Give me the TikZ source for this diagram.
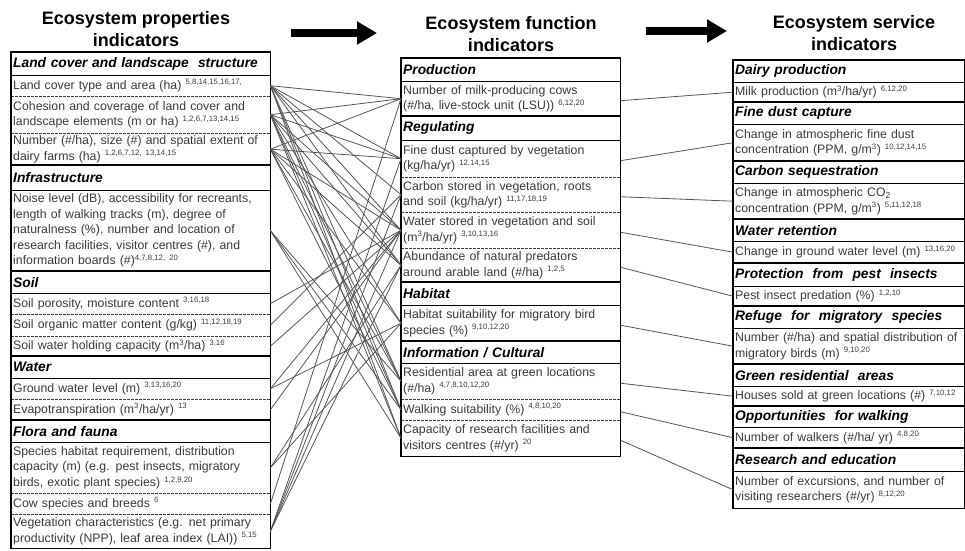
\documentclass[tikz,border=0pt]{standalone}
\usepackage{fontspec}
\setmainfont{Liberation Sans}
\usetikzlibrary{arrows.meta}
\definecolor{bodygray}{HTML}{3A3A3A}
\definecolor{linkgray}{HTML}{555555}
\newcommand\sups[1]{\textsuperscript{\fontsize{7.8}{9}\selectfont #1}}
\newcommand\cell[7]{\node[#1, minimum height=#5pt, text width=#6pt] (#2) at (#3,#4) {#7};}
\begin{document}
\begin{tikzpicture}[x=1pt,y=-1pt,
  base/.style={anchor=north west, inner xsep=2pt, inner ysep=0pt, align=left},
  itm/.style={base, text=bodygray, font=\fontsize{12.3}{15.5}\selectfont},
  hdr/.style={base, text=black, font=\fontsize{13.8}{16}\selectfont\bfseries\itshape},
  ttl/.style={align=center, font=\fontsize{18}{22}\selectfont\bfseries},
  sep/.style={line width=1.4pt, black},
  dsep/.style={line width=0.8pt, bodygray, dash pattern=on 2.5pt off 1.5pt},
  link/.style={draw=linkgray, line width=0.8pt},
  bigarrow/.style={line width=8pt, -{Triangle[length=20pt,width=22pt]}}
]
\useasboundingbox (0,0) rectangle (965,550);

% titles
\node[ttl] (T1) at (136,29) {Ecosystem properties\\indicators};
\node[ttl] (T2) at (511,34) {Ecosystem function\\indicators};
\node[ttl] (T3) at (854,33) {Ecosystem service\\indicators};
\coordinate (a1s) at (291,33); \coordinate (a1e) at (377,33);
\coordinate (a2s) at (646,31); \coordinate (a2e) at (727,31);
\draw[bigarrow] (a1s) -- (a1e);
\draw[bigarrow] (a2s) -- (a2e);

% left column
\cell{hdr}{LH1}{11}{52}{23}{255}{Land cover and landscape\ \ structure}
\cell{itm}{L1}{11}{75}{21}{255}{Land cover type and area (ha) \sups{5,8,14,15,16,17,}}
\cell{itm}{L2}{11}{96}{37}{255}{Cohesion and coverage of land cover and\\landscape elements (m or ha) \sups{1,2,6,7,13,14,15}}
\cell{itm}{L3}{11}{133}{32}{255}{Number (\#/ha), size (\#) and spatial extent of\\dairy farms (ha) \sups{1,2,6,7,12, 13,14,15}}
\cell{hdr}{LH2}{11}{165}{25}{255}{Infrastructure}
\cell{itm}{L4}{11}{190}{81}{255}{Noise level (dB), accessibility for recreants,\\length of walking tracks (m), degree of\\naturalness (\%), number and location of\\research facilities, visitor centres (\#), and\\information boards (\#)\sups{4,7,8,12, 20}}
\cell{hdr}{LH3}{11}{271}{22}{255}{Soil}
\cell{itm}{L5}{11}{293}{21}{255}{Soil porosity, moisture content \sups{3,16,18}}
\cell{itm}{L6}{11}{314}{22}{255}{Soil organic matter content (g/kg) \sups{11,12,18,19}}
\cell{itm}{L7}{11}{336}{20}{255}{Soil water holding capacity (m\sups{3}/ha) \sups{3,16}}
\cell{hdr}{LH4}{11}{356}{22}{255}{Water}
\cell{itm}{L8}{11}{378}{21}{255}{Ground water level (m) \sups{3,13,16,20}}
\cell{itm}{L9}{11}{399}{21}{255}{Evapotranspiration (m\sups{3}/ha/yr) \sups{13}}
\cell{hdr}{LH5}{11}{420}{22}{255}{Flora and fauna}
\cell{itm}{L10}{11}{442}{51}{255}{Species habitat requirement, distribution\\capacity (m) (e.g. pest insects, migratory\\birds, exotic plant species) \sups{1,2,9,20}}
\cell{itm}{L11}{11}{493}{21}{255}{Cow species and breeds \sups{6}}
\cell{itm}{L12}{11}{514}{34}{255}{Vegetation characteristics (e.g. net primary\\productivity (NPP), leaf area index (LAI)) \sups{5,15}}

% middle column
\cell{hdr}{MH1}{401}{58}{23}{215}{Production}
\cell{itm}{M1}{401}{81}{35}{215}{Number of milk-producing cows\\(\#/ha, live-stock unit (LSU)) \sups{6,12,20}}
\cell{hdr}{MH2}{401}{116}{24}{215}{Regulating}
\cell{itm}{M2}{401}{140}{37}{215}{Fine dust captured by vegetation\\(kg/ha/yr) \sups{12,14,15}}
\cell{itm}{M3}{401}{177}{35}{215}{Carbon stored in vegetation, roots\\and soil (kg/ha/yr) \sups{11,17,18,19}}
\cell{itm}{M4}{401}{212}{36}{215}{Water stored in vegetation and soil\\(m\sups{3}/ha/yr) \sups{3,10,13,16}}
\cell{itm}{M5}{401}{248}{34}{215}{Abundance of natural predators\\around arable land (\#/ha) \sups{1,2,5}}
\cell{hdr}{MH3}{401}{282}{23}{215}{Habitat}
\cell{itm}{M6}{401}{305}{36}{215}{Habitat suitability for migratory bird\\species (\%) \sups{9,10,12,20}}
\cell{hdr}{MH4}{401}{341}{22}{215}{Information / Cultural}
\cell{itm}{M7}{401}{363}{36}{215}{Residential area at green locations\\(\#/ha) \sups{4,7,8,10,12,20}}
\cell{itm}{M8}{401}{399}{21}{215}{Walking suitability (\%) \sups{4,8,10,20}}
\cell{itm}{M9}{401}{420}{36}{215}{Capacity of research facilities and\\visitors centres (\#/yr) \sups{20}}

% right column
\cell{hdr}{RH1}{733}{60}{22}{227}{Dairy production}
\cell{itm}{R1}{733}{82}{20}{227}{Milk production (m\sups{3}/ha/yr) \sups{6,12,20}}
\cell{hdr}{RH2}{733}{102}{22}{227}{Fine dust capture}
\cell{itm}{R2}{733}{124}{37}{227}{Change in atmospheric fine dust\\concentration (PPM, g/m\sups{3}) \sups{10,12,14,15}}
\cell{hdr}{RH3}{733}{161}{22}{227}{Carbon sequestration}
\cell{itm}{R3}{733}{183}{36}{227}{Change in atmospheric CO\textsubscript{2}\\concentration (PPM, g/m\sups{3}) \sups{5,11,12,18}}
\cell{hdr}{RH4}{733}{219}{22}{227}{Water retention}
\cell{itm}{R4}{733}{241}{22}{227}{Change in ground water level (m) \sups{13,16,20}}
\cell{hdr}{RH5}{733}{263}{23}{227}{Protection\ \ from\ \ pest\ \ insects}
\cell{itm}{R5}{733}{286}{20}{227}{Pest insect predation (\%) \sups{1,2,10}}
\cell{hdr}{RH6}{733}{306}{22}{227}{Refuge\ \ for\ \ migratory\ \ species}
\cell{itm}{R6}{733}{328}{36}{227}{Number (\#/ha) and spatial distribution of\\migratory birds (m) \sups{9,10,20}}
\cell{hdr}{RH7}{733}{364}{22}{227}{Green residential\ \ areas}
\cell{itm}{R7}{733}{386}{20}{227}{Houses sold at green locations (\#) \sups{7,10,12}}
\cell{hdr}{RH8}{733}{406}{21}{227}{Opportunities\ \ for walking}
\cell{itm}{R8}{733}{427}{21}{227}{Number of walkers (\#/ha/ yr) \sups{4,8,20}}
\cell{hdr}{RH9}{733}{448}{23}{227}{Research and education}
\cell{itm}{R9}{733}{471}{37}{227}{Number of excursions, and number of\\visiting researchers (\#/yr) \sups{8,12,20}}

% separators
\foreach \h in {LH1,LH2,LH3,LH4,LH5,MH1,MH2,MH3,MH4,RH1,RH2,RH3,RH4,RH5,RH6,RH7,RH8,RH9}
  \draw[sep] (\h.north west) -- (\h.north east) (\h.south west) -- (\h.south east);
\foreach \d in {L2,L3,L6,L7,L9,L11,L12,M3,M4,M5,M8,M9}
  \draw[dsep] (\d.north west) -- (\d.north east);
\draw[sep] (LH1.north west) rectangle (L12.south east);
\draw[sep] (MH1.north west) rectangle (M9.south east);
\draw[sep] (RH1.north west) rectangle (R9.south east);

% links middle -> right
\foreach \a/\b in {M1/R1,M2/R2,M3/R3,M4/R4,M5/R5,M6/R6,M7/R7,M8/R8,M9/R9}
  \draw[link] ([yshift=-2pt]\a.east) -- (\b.west);

% links left -> middle
\foreach \a/\b in {L1/M1,L1/M2,L1/M3,L1/M4,L1/M5,L1/M7,L1/M8,L1/M9,
  L2/M1,L2/M2,L2/M4,L2/M5,L2/M6,L2/M7,L2/M8,L2/M9,
  L3/M1,L3/M2,L3/M4,L3/M5,L3/M6,L3/M7,L3/M8,
  L4/M7,L4/M8,L4/M9,
  L5/M4,L6/M3,L7/M4,L8/M4,L8/M6,L9/M4,
  L10/M5,L10/M6,L11/M1,
  L12/M2,L12/M3,L12/M4,L12/M5}
  \draw[link] (\a.east) -- (\b.west);
\end{tikzpicture}
\end{document}
